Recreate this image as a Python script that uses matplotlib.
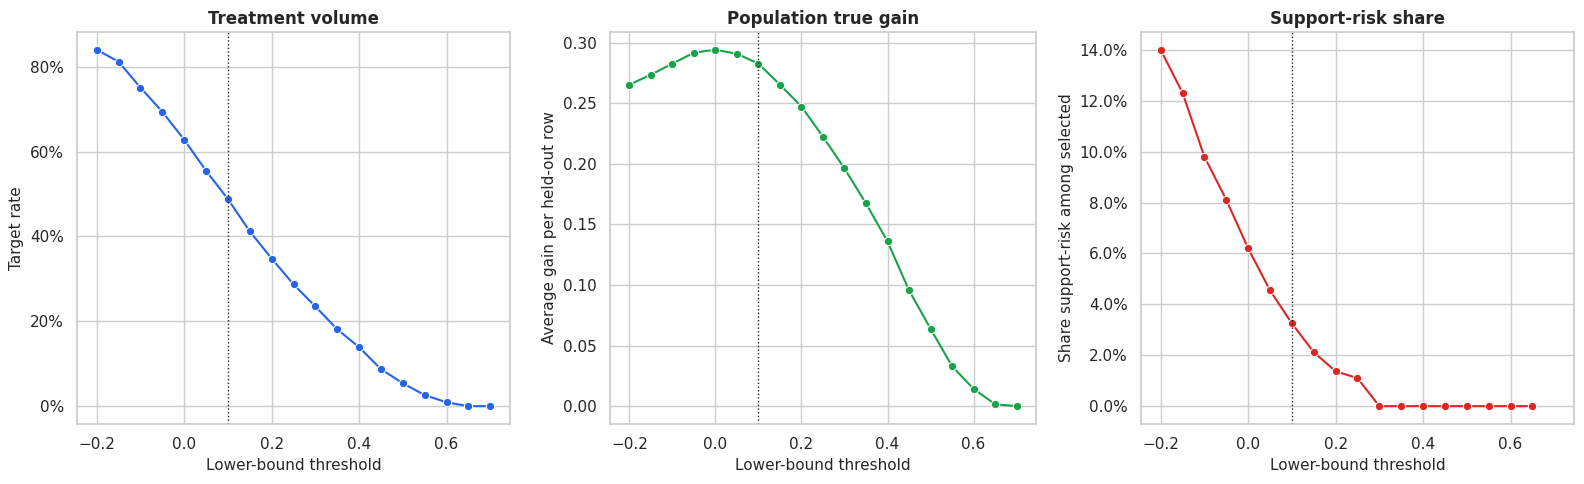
import numpy as np
import matplotlib
matplotlib.use("Agg")
import matplotlib.pyplot as plt
import seaborn as sns
from matplotlib.ticker import PercentFormatter

## Data

thresholds = [-0.2, -0.15, -0.1, -0.05, 0.0, 0.05, 0.1, 0.15, 0.2, 0.25,
              0.3, 0.35, 0.4, 0.45, 0.5, 0.55, 0.6, 0.65, 0.7]

target_rate = [0.840, 0.812, 0.751, 0.694, 0.628, 0.555, 0.488, 0.412, 0.348, 0.287,
               0.235, 0.181, 0.139, 0.087, 0.054, 0.026, 0.009, 0.000, 0.000]

true_gain = [0.2654, 0.2736, 0.2827, 0.2918, 0.2942, 0.2909, 0.2827, 0.2654, 0.2473, 0.2225,
             0.1962, 0.1673, 0.1360, 0.0956, 0.0640, 0.0330, 0.0143, 0.0016, 0.0000]

# no rows selected at 0.7, so the share is undefined there
risk_share = [0.1400, 0.1231, 0.0980, 0.0811, 0.0620, 0.0455, 0.0325, 0.0212, 0.0137, 0.0110,
              0.0, 0.0, 0.0, 0.0, 0.0, 0.0, 0.0, 0.0, np.nan]

chosen_threshold = 0.1

sns.set_theme(style="whitegrid")
plt.rcParams["axes.labelsize"] = 11
plt.rcParams["xtick.labelsize"] = 11
plt.rcParams["ytick.labelsize"] = 11

fig, axes = plt.subplots(1, 3, figsize=(15.84, 4.84), dpi=100, sharex=True)

panels = [
    (target_rate, "#2563eb", "Treatment volume", "Target rate", PercentFormatter(1, decimals=0)),
    (true_gain, "#16a34a", "Population true gain", "Average gain per held-out row", None),
    (risk_share, "#dc2626", "Support-risk share", "Share support-risk among selected", PercentFormatter(1, decimals=1)),
]

boxes = [(0.0486, 0.2734), (0.3851, 0.2689), (0.7203, 0.2734)]

for ax, (vals, col, title, ylab, fmt), (x0, w) in zip(axes, panels, boxes):
    sns.lineplot(x=thresholds, y=vals, marker="o", color=col, ax=ax, markersize=6)
    ax.axvline(chosen_threshold, color="#222222", linestyle=":", linewidth=1)
    ax.set_title(title, fontweight="bold")
    ax.set_xlabel("Lower-bound threshold")
    ax.set_ylabel(ylab)
    if fmt is not None:
        ax.yaxis.set_major_formatter(fmt)
    ax.tick_params(axis="x", labelbottom=True)
    ax.set_position([x0, 0.124, w, 0.810])

plt.savefig("out.png")
